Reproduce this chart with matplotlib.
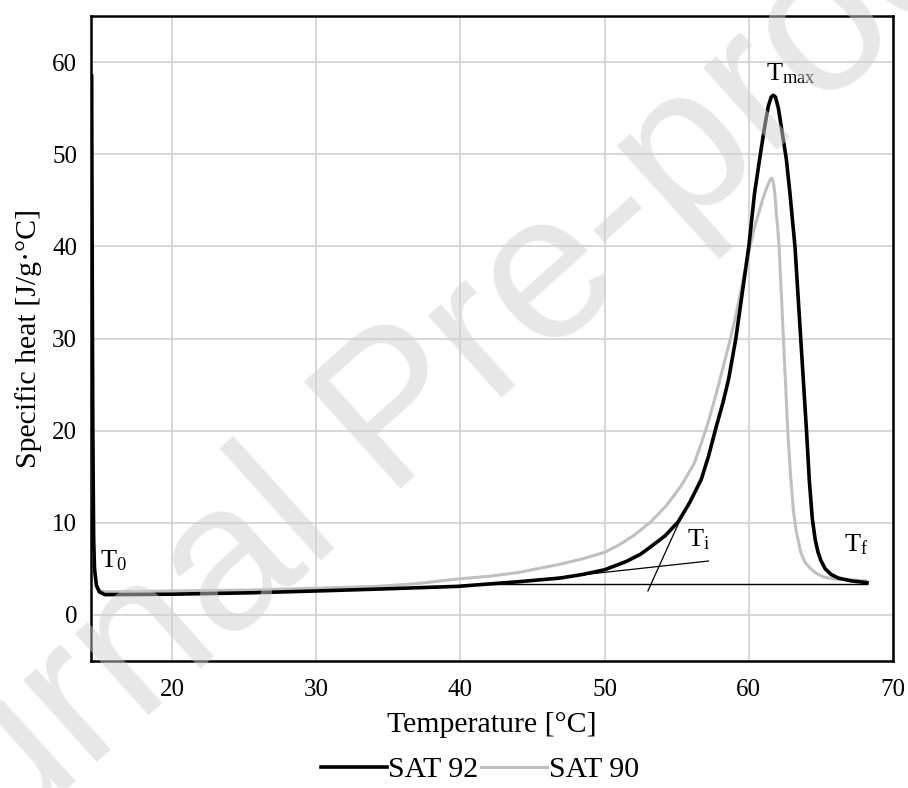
import matplotlib
matplotlib.use('Agg')
import matplotlib.pyplot as plt

plt.rcParams['font.family'] = 'Liberation Serif'
plt.rcParams['mathtext.fontset'] = 'custom'
plt.rcParams['mathtext.rm'] = 'Liberation Serif'
plt.rcParams['mathtext.it'] = 'Liberation Serif'

# SAT 92 (black curve)
temp92 = [14.42, 14.45, 14.5, 14.56, 14.62, 14.75, 14.95, 15.35, 20, 25.4, 30, 34.2, 39.8, 44,
          46.9, 48.5, 50, 51.5, 52.5, 53.2, 54.2, 55.1, 55.9, 56.7, 57.2, 57.7, 58.2, 58.6,
          59.1, 59.55, 60.0, 60.4, 60.8, 61.1, 61.35, 61.55, 61.7, 61.85, 62.05, 62.3, 62.6,
          62.85, 63.2, 63.6, 64.0, 64.2, 64.4, 64.6, 64.8, 65.0, 65.3, 65.7, 66.2, 67.1, 68.2]
cp92 = [58.5, 42, 20, 8, 5, 3.2, 2.5, 2.2, 2.25, 2.4, 2.6, 2.8, 3.1, 3.6,
        4.0, 4.4, 4.9, 5.8, 6.6, 7.4, 8.6, 10.1, 12.2, 14.7, 17.2, 20.2, 23.0, 25.6,
        30, 35, 40, 45.8, 50, 53, 55.2, 56.2, 56.4, 56.2, 55, 52.5, 49.5,
        45.8, 40, 30, 20, 14.5, 10.5, 8.2, 6.8, 5.9, 5.0, 4.4, 4.0, 3.7, 3.5]

# SAT 90 (grey curve)
temp90 = [14.44, 14.5, 14.56, 14.62, 14.75, 14.95, 15.35, 20, 25.4, 30, 34.2, 37, 39.8, 42,
          44, 46.9, 48.5, 50, 51, 52, 53.2, 54.3, 55.3, 56.2, 56.7, 57.2, 57.7, 58.2, 58.6,
          59.0, 59.35, 59.7, 60.0, 60.35, 60.7, 61.0, 61.3, 61.5, 61.6, 61.7, 61.8, 61.9,
          62.0, 62.1, 62.25, 62.4, 62.55, 62.7, 62.9, 63.1, 63.3, 63.6, 63.9, 64.3, 64.7,
          65.2, 66.0, 68.1]
cp90 = [42, 20, 8, 5, 3.3, 2.7, 2.5, 2.6, 2.7, 2.9, 3.1, 3.4, 3.9, 4.2,
        4.6, 5.5, 6.1, 6.8, 7.6, 8.6, 10.1, 11.9, 14.0, 16.4, 18.6, 21.0, 23.8, 26.8, 29.2,
        31.8, 34.4, 37.2, 39.4, 41.8, 43.7, 45.3, 46.6, 47.3, 47.4, 47.0, 45.8, 43.7,
        42, 40, 35, 30, 25, 20, 15, 11.2, 9.0, 6.8, 5.7, 5.0, 4.5,
        4.1, 3.9, 3.7]

# construction lines (onset tangents and baseline)
tan_steep_x = [53.0, 55.2]
tan_steep_y = [2.6, 10.2]
tan_base_x = [44, 57.2]
tan_base_y = [3.6, 5.85]
base_x = [42, 68.2]
base_y = [3.4, 3.4]

fig = plt.figure(figsize=(9.08, 7.88), dpi=100)
ax = fig.add_axes([91/908, 1-661/788, 802/908, 645/788])

ax.plot(temp90, cp90, color='#c0c0c0', lw=2.2, label='SAT 90', zorder=3)
ax.plot(temp92, cp92, color='black', lw=2.6, label='SAT 92', zorder=4)
ax.plot(base_x, base_y, color='black', lw=1.0, zorder=5)
ax.plot(tan_steep_x, tan_steep_y, color='black', lw=0.9, zorder=5)
ax.plot(tan_base_x, tan_base_y, color='black', lw=0.9, zorder=5)

ax.text(15.0, 5.2, r'T$_\mathrm{0}$', fontsize=19, ha='left', va='baseline')
ax.text(55.7, 7.4, r'T$_\mathrm{i}$', fontsize=19, ha='left', va='baseline')
ax.text(66.6, 6.9, r'T$_\mathrm{f}$', fontsize=19, ha='left', va='baseline')
ax.text(61.2, 58.0, r'T$_\mathrm{max}$', fontsize=19, ha='left', va='baseline')

ax.set_xlim(14.375, 70)
ax.set_ylim(-5, 65)
ax.set_xticks([20, 30, 40, 50, 60, 70])
ax.set_yticks([0, 10, 20, 30, 40, 50, 60])
ax.grid(True, color='#d4d4d4', lw=1.3)
ax.set_axisbelow(True)
for s in ax.spines.values():
    s.set_linewidth(1.8)
    s.set_color('black')
ax.tick_params(axis='both', length=0, labelsize=18)
ax.tick_params(axis='x', pad=13)
ax.tick_params(axis='y', pad=10)

ax.set_xlabel('Temperature [°C]', fontsize=21.5)
ax.set_ylabel('Specific heat [J/g·°C]', fontsize=21.5)
ax.xaxis.set_label_coords(0.5, -0.079)
ax.yaxis.set_label_coords(-0.061, 0.5)

handles, labels = ax.get_legend_handles_labels()
fig.legend(handles[::-1], labels[::-1], loc='center', bbox_to_anchor=(480/908, 1-770/788),
           ncol=2, frameon=False, fontsize=21.5, handlelength=2.2, handletextpad=0.05,
           columnspacing=0.1)

# watermark
fig.text(0.44, 0.47, 'Journal Pre-proof', family='Liberation Sans', fontsize=150,
         color='#d0d0d0', alpha=0.5, rotation=42, ha='center', va='center', zorder=10)

fig.savefig('out.png', dpi=100)
